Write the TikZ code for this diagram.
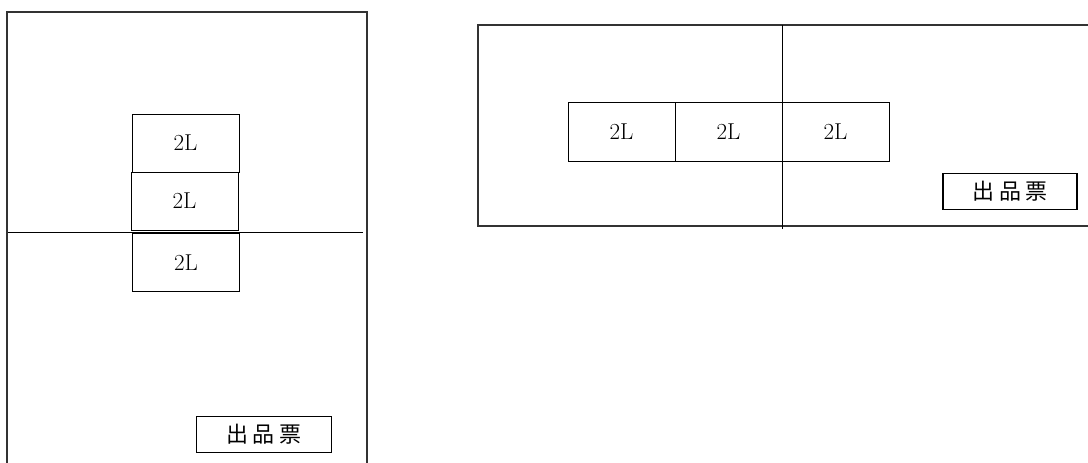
\documentclass[tikz,border=0pt]{standalone}
\usepackage{fontspec}
\newfontfamily\cjk{Noto Sans CJK JP}
\tikzset{
  lbox/.style={draw,line width=0.8pt,minimum width=107pt,minimum height=58pt,inner sep=0pt,font=\fontsize{23}{23}\selectfont},
  tag/.style={draw,line width=1.5pt,minimum width=135pt,minimum height=36pt,inner sep=0pt,font=\cjk\fontsize{22}{22}\selectfont}
}
\newcommand{\tagtext}{出\hspace{5pt}品\hspace{5pt}票}
\begin{document}
\begin{tikzpicture}[x=1pt,y=-1pt]
\useasboundingbox (0,0) rectangle (1088,463);

\draw[line width=1.2pt,black!80] (7,463) -- (7,12) -- (367,12) -- (367,463);
\draw[line width=0.8pt] (8,232) -- (363,232);

\node[lbox] (la) at (185.5,143) {2L};
\node[lbox] (lb) at (184.5,201) {2L};
\node[lbox] (lc) at (186,262.5) {2L};
\node[tag] (lt) at (264,434.5) {\tagtext};

\draw[line width=1.2pt,black!80] (1088,25) -- (478,25) -- (478,226) -- (1088,226);
\draw[line width=0.8pt] (782,25) -- (782,229);

\foreach \i/\x in {1/621.5,2/728.5,3/835.5}
  \node[lbox,minimum height=59pt] (r\i) at (\x,131.5) {2L};
\node[tag,minimum width=134pt] (rt) at (1010,191.5) {\tagtext};
\end{tikzpicture}
\end{document}
